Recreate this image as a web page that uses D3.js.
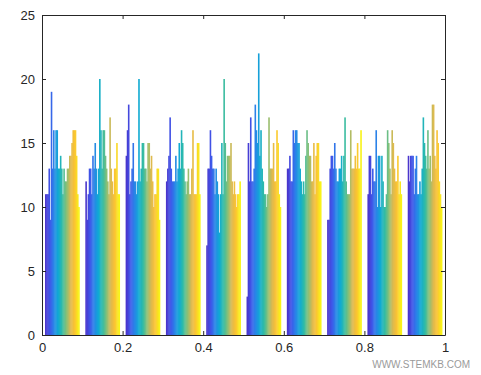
<!DOCTYPE html>
<html>
<head>
<meta charset="utf-8">
<script src="https://cdn.jsdelivr.net/npm/d3@7"></script>
<style>
  body { margin: 0; background: #fff; }
  text { font-family: Arial, "Liberation Sans", sans-serif; }
</style>
</head>
<body>
<svg></svg>
<script>
// Chart size
var width = 481;
var height = 375;

// Bin centres of the histogram
var binCenters = [0.05, 0.15, 0.25, 0.35, 0.45, 0.55, 0.65, 0.75, 0.85, 0.95];

// Counts per bin, one entry per series (left to right inside each group)
var bin1 = [11, 11, 11, 13, 9, 19, 13, 16, 13, 16, 16, 13, 13, 14, 13, 11, 13, 12, 12, 13, 13, 14, 14, 15, 16, 16, 16, 14, 11, 10];
var bin2 = [12, 9, 11, 13, 13, 11, 14, 13, 15, 13, 11, 13, 20, 16, 13, 16, 16, 14, 13, 12, 11, 17, 13, 12, 11, 13, 13, 15, 11, 11];
var bin3 = [14, 16, 18, 11, 12, 13, 15, 12, 12, 11, 12, 20, 12, 13, 15, 15, 13, 13, 12, 15, 15, 13, 14, 12, 10, 11, 11, 13, 13, 9];
var bin4 = [12, 13, 14, 17, 13, 12, 12, 12, 14, 12, 13, 15, 13, 16, 15, 13, 12, 11, 12, 13, 11, 11, 13, 16, 11, 11, 11, 15, 15, 11];
var bin5 = [7, 13, 13, 16, 14, 13, 13, 11, 13, 12, 11, 8, 11, 15, 11, 20, 15, 12, 14, 14, 14, 15, 12, 11, 12, 11, 10, 11, 11, 12];
var bin6 = [3, 15, 12, 17, 12, 12, 13, 18, 16, 15, 22, 14, 16, 13, 12, 11, 11, 10, 11, 17, 13, 13, 13, 15, 12, 12, 16, 15, 11, 10];
var bin7 = [13, 13, 14, 12, 12, 16, 15, 16, 16, 15, 15, 13, 12, 11, 12, 11, 14, 16, 15, 14, 14, 12, 12, 15, 11, 14, 15, 15, 12, 12];
var bin8 = [9, 9, 13, 14, 14, 13, 15, 13, 12, 12, 13, 13, 14, 12, 14, 17, 12, 11, 11, 11, 16, 13, 13, 13, 14, 13, 15, 13, 13, 16];
var bin9 = [11, 14, 14, 11, 13, 12, 12, 16, 10, 14, 14, 10, 14, 12, 10, 10, 11, 16, 15, 13, 11, 16, 15, 13, 12, 12, 14, 11, 12, 11];
var bin10 = [14, 12, 14, 14, 14, 11, 13, 14, 11, 11, 12, 11, 13, 17, 15, 14, 13, 16, 13, 14, 12, 18, 18, 14, 13, 16, 15, 12, 11, 10];
var counts = [bin1, bin2, bin3, bin4, bin5, bin6, bin7, bin8, bin9, bin10];

// Tick values
var xTicks = [0, 0.2, 0.4, 0.6, 0.8, 1];
var yTicks = [0, 5, 10, 15, 20, 25];

// Plot area
var margin = { top: 15, right: 36, bottom: 40, left: 42 };
var innerW = width - margin.left - margin.right;
var innerH = height - margin.top - margin.bottom;

var svg = d3.select("svg")
  .attr("width", width)
  .attr("height", height);

var g = svg.append("g")
  .attr("transform", "translate(" + margin.left + "," + margin.top + ")");

var x = d3.scaleLinear().domain([0, 1]).range([0, innerW]);
var y = d3.scaleLinear().domain([0, 25]).range([innerH, 0]);

// Series index inside a group
var nSeries = bin1.length;
var groupWidth = 0.085;
var xSub = d3.scaleBand()
  .domain(d3.range(nSeries))
  .range([-groupWidth / 2, groupWidth / 2]);

// Parula-like colour map
var parula = d3.scaleLinear()
  .domain(d3.range(9).map(function(i) { return i / 8; }))
  .range(["#4a35cc", "#3f57ea", "#2a85e8", "#0fa9d4", "#2fbba6", "#86c077", "#dcb950", "#fcc332", "#f8f318"]);
var color = function(i) { return parula(i / (nSeries - 1)); };

// Bars
var groups = g.selectAll(".bin")
  .data(counts)
  .enter()
  .append("g")
  .attr("class", "bin");

groups.selectAll("rect")
  .data(function(d, i) {
    return d.map(function(v, j) { return { c: binCenters[i], s: j, v: v }; });
  })
  .enter()
  .append("rect")
  .attr("x", function(d) { return x(d.c + xSub(d.s)); })
  .attr("width", function(d) { return x(xSub.bandwidth()) * 1.4; })
  .attr("y", function(d) { return y(d.v); })
  .attr("height", function(d) { return innerH - y(d.v); })
  .attr("fill", function(d) { return color(d.s); });

// Axes, ticks inside, box on
var axisColor = "#262626";
var tickLen = 4;

var xAxis = g.append("g")
  .attr("transform", "translate(0," + innerH + ")")
  .call(d3.axisBottom(x).tickValues(xTicks).tickSizeInner(-tickLen).tickSizeOuter(0).tickPadding(8)
    .tickFormat(function(d) { return d; }));

var yAxis = g.append("g")
  .call(d3.axisLeft(y).tickValues(yTicks).tickSizeInner(-tickLen).tickSizeOuter(0).tickPadding(7));

var xTop = g.append("g")
  .call(d3.axisTop(x).tickValues(xTicks).tickSizeInner(-tickLen).tickSizeOuter(0).tickFormat(""));

var yRight = g.append("g")
  .attr("transform", "translate(" + innerW + ",0)")
  .call(d3.axisRight(y).tickValues(yTicks).tickSizeInner(-tickLen).tickSizeOuter(0).tickFormat(""));

[xAxis, yAxis, xTop, yRight].forEach(function(a) {
  a.select(".domain").attr("stroke", axisColor);
  a.selectAll(".tick line").attr("stroke", axisColor);
  a.selectAll(".tick text").attr("fill", axisColor).style("font-size", "13px");
});

// Watermark
svg.append("text")
  .attr("x", 470)
  .attr("y", 368)
  .attr("text-anchor", "end")
  .attr("fill", "#9a9a9a")
  .style("font-size", "10px")
  .text("WWW.STEMKB.COM");
</script>
</body>
</html>
